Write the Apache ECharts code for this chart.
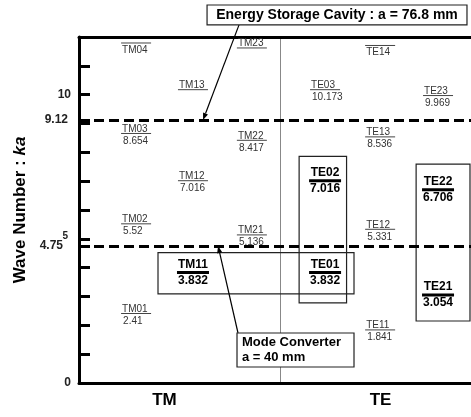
<!DOCTYPE html>
<html><head><meta charset="utf-8">
<script src="https://cdn.jsdelivr.net/npm/echarts@6/dist/echarts.min.js"></script>
<style>html,body{margin:0;padding:0;background:#fff}#c{width:471px;height:417px}</style>
</head><body><div id="c"></div>
<script>
// ---- data ----
const tmModes   = ['TM01','TM02','TM03','TM04','TM11','TM12','TM13','TM21','TM22','TM23'];
const tmKa      = [2.41, 5.52, 8.654, 11.792, 3.832, 7.016, 10.173, 5.136, 8.417, 11.62];
const tmKaText  = ['2.41','5.52','8.654','','3.832','7.016','','5.136','8.417',''];
const teModes   = ['TE01','TE02','TE03','TE11','TE12','TE13','TE14','TE21','TE22','TE23'];
const teKa      = [3.832, 7.016, 10.173, 1.841, 5.331, 8.536, 11.706, 3.054, 6.706, 9.969];
const teKaText  = ['3.832','7.016','10.173','1.841','5.331','8.536','','3.054','6.706','9.969'];
const highlighted = ['TM11','TE01','TE02','TE21','TE22'];
const overlined   = ['TM04','TE14'];
const cutoffLines = [9.12, 4.75];           // energy storage cavity, mode converter
const yTickLabels = [0, 4.75, 5, 9.12, 10];
const xTickLabels = ['TM','TE'];
const annotationTexts = [['Energy Storage Cavity : a = 76.8 mm'], ['Mode Converter','a = 40 mm']];

// ---- layout (positions, in axis units) ----
const FONT = '"Liberation Sans", Arial, Helvetica, sans-serif';
const colCenters = {TM:[0.284,0.567,0.860], TE:[1.224,1.498,1.786]};
const xLabelPos = [0.425, 1.5];
const boxes = [
  [[0.393,4.52],[1.368,3.09]],
  [[1.095,7.86],[1.331,2.78]],
  [[1.677,7.59],[1.945,2.15]]
];
const annLayout = [
  {box:[[0.637,13.11],[1.930,12.42]], from:[0.796,12.42], tipX:0.617, align:'center', fontSize:14},
  {box:[[0.786,1.734],[1.368,0.555]], from:[0.791,1.734], tipX:0.692, align:'left', fontSize:13}
];

const modes = tmModes.concat(teModes);
const kaVals = tmKa.concat(teKa);
const kaTexts = tmKaText.concat(teKaText);
const labelData = modes.map((m,i)=>[colCenters[m.slice(0,2)][+m[2]], kaVals[i]]);
const annData = annLayout.map((a,i)=>[a.tipX, cutoffLines[i]]);

function renderMode(params, api){
  const i = params.dataIndex, name = modes[i];
  const p = api.coord([api.value(0), api.value(1)]);
  const cx = p[0], y = p[1];
  const ch = [];
  if (highlighted.includes(name)) {
    ch.push({type:'line', shape:{x1:cx-16,y1:y,x2:cx+16,y2:y}, style:{stroke:'#000',lineWidth:3}});
    ch.push({type:'text', style:{text:name, x:cx, y:y-2, align:'center', verticalAlign:'bottom', fontSize:12, fontWeight:'bold', fontFamily:FONT, fill:'#000'}});
    ch.push({type:'text', style:{text:kaTexts[i], x:cx, y:y+2, align:'center', verticalAlign:'top', fontSize:12, fontWeight:'bold', fontFamily:FONT, fill:'#000'}});
  } else {
    ch.push({type:'line', shape:{x1:cx-15,y1:y,x2:cx+15,y2:y}, style:{stroke:'#444',lineWidth:1}});
    if (overlined.includes(name)) {
      ch.push({type:'text', style:{text:name, x:cx-14, y:y+2, align:'left', verticalAlign:'top', fontSize:10, fontFamily:FONT, fill:'#333'}});
    } else {
      ch.push({type:'text', style:{text:name, x:cx-14, y:y+0.5, align:'left', verticalAlign:'bottom', fontSize:10, fontFamily:FONT, fill:'#333'}});
      if (kaTexts[i]) ch.push({type:'text', style:{text:kaTexts[i], x:cx-13, y:y+2.5, align:'left', verticalAlign:'top', fontSize:10, fontFamily:FONT, fill:'#333'}});
    }
  }
  return {type:'group', children:ch};
}

function arrow(x1,y1,x2,y2){
  const ang = Math.atan2(y2-y1, x2-x1), L=7, W=2.6;
  const bx = x2-L*Math.cos(ang), by = y2-L*Math.sin(ang);
  const nx = -Math.sin(ang)*W, ny = Math.cos(ang)*W;
  return [
    {type:'line', shape:{x1:x1,y1:y1,x2:bx,y2:by}, style:{stroke:'#000',lineWidth:1.2}},
    {type:'polygon', shape:{points:[[x2,y2],[bx+nx,by+ny],[bx-nx,by-ny]]}, style:{fill:'#000'}}
  ];
}

function renderAnn(params, api){
  const i = params.dataIndex, a = annLayout[i];
  const tip = api.coord([api.value(0), api.value(1)]);
  const p1 = api.coord(a.box[0]), p2 = api.coord(a.box[1]);
  const from = api.coord(a.from);
  const x = Math.min(p1[0],p2[0]), y = Math.min(p1[1],p2[1]);
  const w = Math.abs(p2[0]-p1[0]), h = Math.abs(p2[1]-p1[1]);
  const ch = arrow(from[0], from[1], tip[0], tip[1]);
  ch.push({type:'rect', shape:{x:x,y:y,width:w,height:h}, style:{fill:'#fff', stroke:'#222', lineWidth:1.2}});
  ch.push({type:'text', style:{
    text: annotationTexts[i].join('\n'),
    x: a.align==='center' ? x+w/2 : x+5, y: y+h/2,
    align: a.align, verticalAlign:'middle', lineHeight:15,
    fontSize:a.fontSize, fontWeight:'bold', fontFamily:FONT, fill:'#000'}});
  return {type:'group', children:ch};
}

const chart = echarts.init(document.getElementById('c'), null, {renderer:'canvas'});
chart.setOption({
  animation:false,
  backgroundColor:'#fff',
  grid:{left:79, top:37, right:0, bottom:34, show:false},
  xAxis:[{
    type:'value', min:0, max:1.95, interval:1,
    axisLine:{show:true, onZero:false, lineStyle:{color:'#000', width:3}},
    axisTick:{show:false, customValues:[0,1]},
    splitLine:{show:true, lineStyle:{color:'#888', width:1}},
    axisLabel:{customValues:xLabelPos, formatter:v=>xTickLabels[v<1?0:1], margin:9,
      fontSize:17, fontWeight:'bold', fontFamily:FONT, color:'#000'}
  },{
    type:'value', min:0, max:1.95, position:'top',
    axisLine:{show:true, onZero:false, lineStyle:{color:'#000', width:3}},
    axisTick:{show:false}, axisLabel:{show:false}, splitLine:{show:false}
  }],
  yAxis:{
    type:'value', min:0, max:12, interval:1,
    name:'{n|Wave Number : }{i|ka}', nameLocation:'middle', nameGap:49, nameRotate:90,
    nameTextStyle:{rich:{
      n:{fontSize:17, fontWeight:'bold', fontFamily:FONT, color:'#000'},
      i:{fontSize:17, fontWeight:'bold', fontStyle:'italic', fontFamily:FONT, color:'#000'}}},
    axisLine:{show:true, lineStyle:{color:'#000', width:3}},
    axisTick:{show:true, inside:true, length:11, lineStyle:{color:'#000', width:3},
      customValues:[1,2,3,4,4.75,5,6,7,8,9,9.12,10,11]},
    splitLine:{show:false},
    axisLabel:{customValues:yTickLabels, margin:8,
      formatter:v=> v===4.75 ? '{a|4.75}' : v===5 ? '{s|5}' : v===9.12 ? '{b|9.12}' : '{d|'+v+'}',
      rich:{
        d:{fontSize:12, fontWeight:'bold', fontFamily:FONT, color:'#222'},
        a:{fontSize:12, fontWeight:'bold', fontFamily:FONT, color:'#222', padding:[0,8,0,0]},
        b:{fontSize:12, fontWeight:'bold', fontFamily:FONT, color:'#222', padding:[0,3,0,0]},
        s:{fontSize:10, fontWeight:'bold', fontFamily:FONT, color:'#222', padding:[0,3,5,0]}
      }}
  },
  series:[
    {
      type:'custom', name:'modes', data:labelData, renderItem:renderMode, silent:true, z:3,
      markArea:{silent:true, itemStyle:{color:'rgba(0,0,0,0)', borderColor:'#222', borderWidth:1.2},
        data: boxes.map(b=>[{coord:b[0]},{coord:b[1]}])},
      markLine:{silent:true, symbol:'none', label:{show:false},
        lineStyle:{color:'#000', width:3, type:[10,5]},
        data: cutoffLines.map(v=>({yAxis:v}))}
    },
    {type:'custom', name:'annotations', data:annData, renderItem:renderAnn, silent:true, clip:false, z:5}
  ]
});
</script></body></html>
